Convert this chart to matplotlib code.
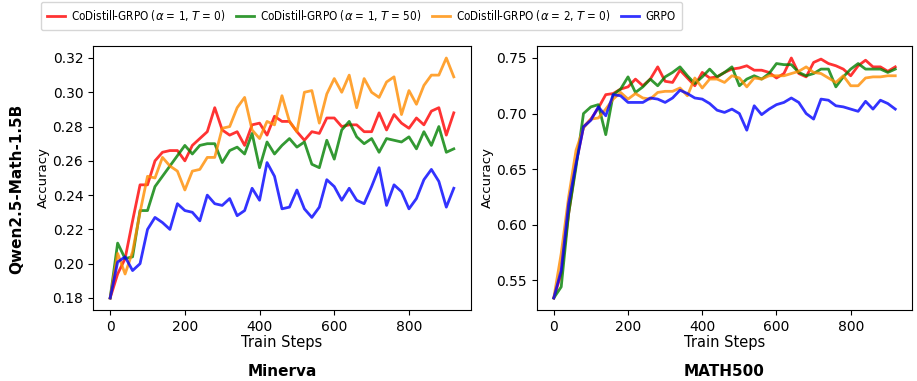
import matplotlib
matplotlib.use("Agg")
import matplotlib.pyplot as plt

# training steps (every 20 steps)
steps = list(range(0, 921, 20))

labels = [
    r"CoDistill-GRPO ($\alpha$ = 1, $T$ = 0)",
    r"CoDistill-GRPO ($\alpha$ = 1, $T$ = 50)",
    r"CoDistill-GRPO ($\alpha$ = 2, $T$ = 0)",
    "GRPO",
]
colors = ["red", "green", "darkorange", "blue"]

# Minerva accuracy
minerva_a1_t0 = [
    0.180, 0.194, 0.203, 0.225, 0.246, 0.246, 0.260, 0.265, 0.266, 0.266,
    0.260, 0.269, 0.273, 0.277, 0.291, 0.278, 0.275, 0.277, 0.269, 0.281,
    0.282, 0.275, 0.286, 0.283, 0.283, 0.277, 0.272, 0.277, 0.276, 0.285,
    0.285, 0.280, 0.281, 0.281, 0.277, 0.277, 0.288, 0.278, 0.287, 0.282,
    0.279, 0.285, 0.281, 0.289, 0.291, 0.275, 0.288,
]
minerva_a1_t50 = [
    0.180, 0.212, 0.203, 0.204, 0.231, 0.231, 0.245, 0.251, 0.257, 0.263,
    0.269, 0.264, 0.269, 0.270, 0.270, 0.259, 0.266, 0.268, 0.264, 0.276,
    0.256, 0.271, 0.264, 0.269, 0.273, 0.268, 0.271, 0.258, 0.256, 0.272,
    0.261, 0.278, 0.283, 0.274, 0.270, 0.273, 0.265, 0.273, 0.272, 0.271,
    0.274, 0.267, 0.277, 0.269, 0.280, 0.265, 0.267,
]
minerva_a2_t0 = [
    0.180, 0.206, 0.194, 0.207, 0.230, 0.251, 0.250, 0.262, 0.257, 0.254,
    0.243, 0.254, 0.255, 0.262, 0.262, 0.279, 0.280, 0.291, 0.297, 0.278,
    0.273, 0.283, 0.281, 0.298, 0.283, 0.277, 0.300, 0.301, 0.282, 0.299,
    0.308, 0.300, 0.310, 0.291, 0.308, 0.300, 0.297, 0.306, 0.309, 0.287,
    0.301, 0.293, 0.304, 0.310, 0.310, 0.320, 0.309,
]
minerva_grpo = [
    0.180, 0.201, 0.204, 0.196, 0.200, 0.220, 0.227, 0.224, 0.220, 0.235,
    0.231, 0.230, 0.225, 0.240, 0.235, 0.234, 0.238, 0.228, 0.231, 0.244,
    0.237, 0.259, 0.251, 0.232, 0.233, 0.243, 0.232, 0.227, 0.233, 0.249,
    0.245, 0.237, 0.244, 0.237, 0.235, 0.245, 0.256, 0.234, 0.246, 0.242,
    0.232, 0.238, 0.249, 0.255, 0.248, 0.233, 0.244,
]

# MATH500 accuracy
math500_a1_t0 = [
    0.534, 0.556, 0.610, 0.655, 0.688, 0.695, 0.705, 0.717, 0.718, 0.722,
    0.724, 0.731, 0.725, 0.731, 0.742, 0.729, 0.728, 0.739, 0.732, 0.725,
    0.737, 0.732, 0.733, 0.737, 0.740, 0.741, 0.743, 0.739, 0.739, 0.737,
    0.732, 0.736, 0.750, 0.736, 0.733, 0.746, 0.749, 0.745, 0.743, 0.740,
    0.734, 0.743, 0.748, 0.742, 0.742, 0.738, 0.742,
]
math500_a1_t50 = [
    0.534, 0.544, 0.610, 0.652, 0.700, 0.706, 0.708, 0.681, 0.717, 0.722,
    0.733, 0.719, 0.724, 0.731, 0.725, 0.733, 0.737, 0.742, 0.734, 0.727,
    0.733, 0.740, 0.733, 0.737, 0.742, 0.725, 0.731, 0.734, 0.731, 0.736,
    0.745, 0.744, 0.744, 0.737, 0.734, 0.736, 0.740, 0.740, 0.724, 0.733,
    0.740, 0.745, 0.740, 0.740, 0.740, 0.737, 0.740,
]
math500_a2_t0 = [
    0.534, 0.574, 0.625, 0.667, 0.687, 0.695, 0.696, 0.704, 0.713, 0.719,
    0.713, 0.718, 0.714, 0.713, 0.719, 0.720, 0.720, 0.723, 0.716, 0.732,
    0.723, 0.731, 0.731, 0.728, 0.734, 0.732, 0.724, 0.732, 0.731, 0.734,
    0.734, 0.734, 0.736, 0.738, 0.742, 0.737, 0.736, 0.732, 0.728, 0.734,
    0.725, 0.725, 0.732, 0.733, 0.733, 0.734, 0.734,
]
math500_grpo = [
    0.534, 0.559, 0.619, 0.655, 0.688, 0.694, 0.706, 0.698, 0.717, 0.716,
    0.710, 0.710, 0.710, 0.714, 0.713, 0.710, 0.714, 0.721, 0.718, 0.714,
    0.713, 0.709, 0.703, 0.701, 0.704, 0.700, 0.685, 0.707, 0.699, 0.704,
    0.708, 0.710, 0.714, 0.710, 0.700, 0.695, 0.713, 0.712, 0.707, 0.706,
    0.704, 0.702, 0.711, 0.704, 0.712, 0.709, 0.704,
]

minerva = [minerva_a1_t0, minerva_a1_t50, minerva_a2_t0, minerva_grpo]
math500 = [math500_a1_t0, math500_a1_t50, math500_a2_t0, math500_grpo]

fig = plt.figure(figsize=(9.17, 3.81), dpi=100)
ax1 = fig.add_axes([0.1014, 0.1864, 0.4122, 0.6929])
ax2 = fig.add_axes([0.5853, 0.1864, 0.4096, 0.6929])

for ax, series in [(ax1, minerva), (ax2, math500)]:
    for vals, col, lab in zip(series, colors, labels):
        ax.plot(steps, vals, color=col, alpha=0.8, linewidth=2, label=lab)
    ax.set_xlabel("Train Steps", fontsize=10.5, labelpad=1)
    ax.set_ylabel("Accuracy", fontsize=9.5, labelpad=2)
    ax.tick_params(labelsize=10)

ax1.set_yticks([0.18, 0.20, 0.22, 0.24, 0.26, 0.28, 0.30, 0.32])
ax2.set_yticks([0.55, 0.60, 0.65, 0.70, 0.75])

# dataset names under each panel, model name on the left
fig.text(0.3075, 1 - 372 / 381, "Minerva", fontsize=11, fontweight="bold",
         ha="center", va="center")
fig.text(0.79, 1 - 372 / 381, "MATH500", fontsize=11, fontweight="bold",
         ha="center", va="center")
fig.text(17 / 917, 1 - 189 / 381, "Qwen2.5-Math-1.5B", fontsize=11,
         fontweight="bold", rotation=90, ha="center", va="center")

handles, labs = ax1.get_legend_handles_labels()
fig.legend(handles, labs, loc="upper left", bbox_to_anchor=(41 / 917, 1 - 2 / 381),
           ncol=4, frameon=True, columnspacing=0.9, handlelength=1.5,
           handletextpad=0.55, borderpad=0.55, borderaxespad=0.0,
           prop={"family": "DejaVu Sans", "stretch": "condensed", "size": 8.4})

fig.savefig("out.png", dpi=100)
